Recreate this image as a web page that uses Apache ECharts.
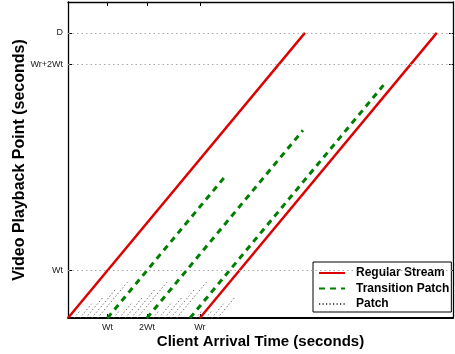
<!DOCTYPE html>
<html>
<head>
<meta charset="utf-8">
<script src="https://cdn.jsdelivr.net/npm/echarts@6/dist/echarts.min.js"></script>
<style>html,body{margin:0;padding:0;background:#fff}#c{width:455px;height:354px}</style>
</head>
<body>
<div id="c"></div>
<script>
// ---- data (in units where Wt = 10) ----
const xMax = 97.5;
const yMax = 66.5;
const xTickValues = [10, 20, 33.4];
const xTickLabels = ['Wt', '2Wt', 'Wr'];
const yTickValues = [10, 53.4, 60];
const yTickLabels = ['Wt', 'Wr+2Wt', 'D'];
const regularStarts = [0, 33.4];
const regularLengths = [60, 60];
const transitionStarts = [10, 20, 30.9];
const transitionLengths = [30, 39.5, 49];
const patchStarts = [1.5, 3, 4.5, 6, 7.5, 11.5, 13, 14.5, 16, 17.5, 21.5, 23, 24.5, 26, 27.5, 32.4, 34.9, 36.4, 37.9];
const patchLengths = [1.5, 3, 4.5, 6, 7.5, 1.5, 3, 4.5, 6, 7.5, 1.5, 3, 4.5, 6, 7.5, 1.5, 1.5, 3, 4.5];

const FONT = "'Liberation Sans', Arial, sans-serif";
const RED = '#dd0000', GREEN = '#007f00', GRAY = '#555';

function seg(s, len) { return [[s, 0], [s + len, len]]; }

const series = [];
// gridlines via markLine on an empty series
series.push({
  type: 'line', data: [], z: 1, silent: true,
  markLine: {
    symbol: 'none', silent: true, label: { show: false },
    lineStyle: { color: '#aaa', type: [1.5, 3], width: 1 },
    data: yTickValues.map(v => ({ yAxis: v }))
  }
});
regularStarts.forEach((s, i) => series.push({
  name: 'Regular Stream', type: 'line', data: seg(s, regularLengths[i]), symbol: 'none', z: 3,
  lineStyle: { color: RED, width: 2.4 }, itemStyle: { color: RED }
}));
transitionStarts.forEach((s, i) => series.push({
  name: 'Transition Patch', type: 'line', data: seg(s, transitionLengths[i]), symbol: 'none', z: 3,
  lineStyle: { color: GREEN, width: 3, type: [6, 5] }, itemStyle: { color: GREEN }
}));
patchStarts.forEach((s, i) => series.push({
  name: 'Patch', type: 'line', data: seg(s, patchLengths[i]), symbol: 'none', z: 2,
  lineStyle: { color: GRAY, width: 1, type: [1.2, 2.3] }, itemStyle: { color: GRAY }
}));

const axisLineStyle = { onZero: false, lineStyle: { color: '#000', width: 1.3 } };
const labelStyle = { fontFamily: FONT, fontSize: 9, color: '#222' };

const option = {
  animation: false,
  grid: { left: 68, right: 2, top: 2, bottom: 36, containLabel: false },
  legend: {
    orient: 'vertical', left: 313, top: 262,
    padding: [5, 2, 2, 5],
    itemWidth: 26, itemHeight: 12, itemGap: 3.5,
    itemStyle: { opacity: 0 },
    backgroundColor: '#fff', borderColor: '#000', borderWidth: 1, borderRadius: 0,
    data: ['Regular Stream', 'Transition Patch', 'Patch'],
    textStyle: { fontFamily: FONT, fontSize: 12, fontWeight: 'bold', color: '#000', padding: [0, 0, 0, 6] }
  },
  xAxis: [{
    type: 'value', min: 0, max: xMax, position: 'bottom',
    name: 'Client Arrival Time (seconds)', nameLocation: 'middle', nameGap: 16, nameMoveOverlap: false,
    nameTextStyle: { fontFamily: FONT, fontSize: 15, fontWeight: 'bold', color: '#000' },
    axisLine: { onZero: false, lineStyle: { color: '#000', width: 1.8 } },
    axisTick: { inside: true, length: 4, customValues: xTickValues, lineStyle: { color: '#000' } },
    axisLabel: Object.assign({ customValues: xTickValues, margin: 5,
      formatter: v => { const i = xTickValues.findIndex(t => Math.abs(t - v) < 1e-6); return i >= 0 ? xTickLabels[i] : ''; } }, labelStyle),
    splitLine: { show: false }
  }, {
    type: 'value', min: 0, max: xMax, position: 'top',
    axisLine: axisLineStyle,
    axisTick: { inside: true, length: 4, customValues: xTickValues, lineStyle: { color: '#000' } },
    axisLabel: { show: false },
    splitLine: { show: false }
  }],
  yAxis: [{
    type: 'value', min: 0, max: yMax, position: 'left',
    name: 'Video Playback Point (seconds)', nameLocation: 'middle', nameGap: 40, nameMoveOverlap: false,
    nameTextStyle: { fontFamily: FONT, fontSize: 16, fontWeight: 'bold', color: '#000' },
    axisLine: axisLineStyle,
    axisTick: { inside: true, length: 4, customValues: yTickValues, lineStyle: { color: '#000' } },
    axisLabel: Object.assign({ customValues: yTickValues, margin: 5,
      formatter: v => { const i = yTickValues.findIndex(t => Math.abs(t - v) < 1e-6); return i >= 0 ? yTickLabels[i] : ''; } }, labelStyle),
    splitLine: { show: false }
  }, {
    type: 'value', min: 0, max: yMax, position: 'right',
    axisLine: axisLineStyle,
    axisTick: { inside: true, length: 4, customValues: yTickValues, lineStyle: { color: '#000' } },
    axisLabel: { show: false },
    splitLine: { show: false }
  }],
  series: series
};

const chart = echarts.init(document.getElementById('c'), null, { renderer: 'canvas' });
chart.setOption(option);
</script>
</body>
</html>
